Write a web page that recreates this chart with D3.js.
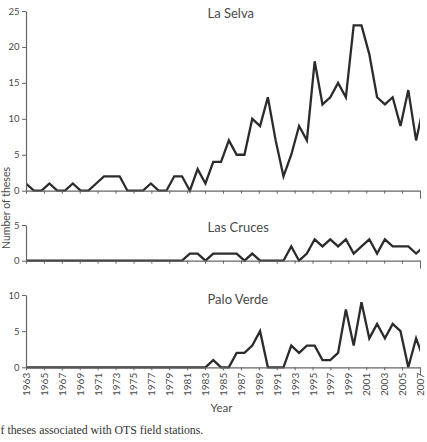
<!DOCTYPE html>
<html><head><meta charset="utf-8">
<script src="https://cdn.jsdelivr.net/npm/d3@7"></script>
<style>
body{margin:0;background:#fff;}
svg{display:block;}
</style></head>
<body><div id="chart"></div>
<script>
// ---- data ----
const tickYears = d3.range(1963, 2008, 2);
const stations = ["La Selva", "Las Cruces", "Palo Verde"];
const laSelva = [1,0,0,1,0,0,1,0,0,1,2,2,2,0,0,0,1,0,0,2,2,0,3,1,4,4,7,5,5,10,9,13,7,2,5,9,7,18,12,13,15,13,23,23,19,13,12,13,9,14,7,12];
const lasCruces = [0,0,0,0,0,0,0,0,0,0,0,0,0,0,0,0,0,0,0,0,0,1,1,0,1,1,1,1,0,1,0,0,0,0,2,0,1,3,2,3,2,3,1,2,3,1,3,2,2,2,1,2];
const paloVerde = [0,0,0,0,0,0,0,0,0,0,0,0,0,0,0,0,0,0,0,0,0,0,0,0,1,0,0,2,2,3,5,0,0,0,3,2,3,3,1,1,2,8,3,9,4,6,4,6,5,0,4,1];
const yMaxes = [25, 5, 10];
const yTicks = [[0,5,10,15,20,25],[0,5],[0,5,10]];

// ---- layout ----
const W = 427, H = 442;
const x0 = 26, x1 = 420;
const panels = [
  {data: laSelva,   yTop: 11,  yBot: 190.7},
  {data: lasCruces, yTop: 225, yBot: 260.7},
  {data: paloVerde, yTop: 295, yBot: 367.3}
];
const axisCol = "#666", textCol = "#4a4a4a", lineCol = "#2b2b2b";
const font = "Lato, 'Open Sans', sans-serif";

const svg = d3.select("#chart").append("svg").attr("width", W).attr("height", H);
svg.append("rect").attr("width", W).attr("height", H).attr("fill", "#fff");

const xYear = d3.scaleLinear().domain([1963, 2007]).range([x0, x1]);
const xIdx = d3.scaleLinear().domain([0, 50.5]).range([x0, x1]);

svg.append("clipPath").attr("id", "clip").append("rect")
  .attr("x", x0).attr("y", 0).attr("width", x1 - x0).attr("height", H);

panels.forEach((p, i) => {
  const y = d3.scaleLinear().domain([0, yMaxes[i]]).range([p.yBot, p.yTop]);
  const g = svg.append("g");

  // line
  g.append("path").datum(p.data)
    .attr("clip-path", "url(#clip)")
    .attr("fill", "none").attr("stroke", lineCol).attr("stroke-width", 2.3)
    .attr("stroke-linejoin", "miter")
    .attr("d", d3.line().x((d, k) => xIdx(k)).y(d => y(d)));

  // y axis
  const ya = g.append("g").attr("transform", `translate(${x0},0)`)
    .call(d3.axisLeft(y).tickValues(yTicks[i]).tickFormat(d3.format("d"))
      .tickSize(4).tickSizeOuter(0).tickPadding(2.5));
  ya.select(".domain").attr("stroke", axisCol).attr("stroke-width", 1.2);
  ya.selectAll(".tick line").attr("stroke", axisCol);
  ya.selectAll("text").attr("fill", textCol).style("font-family", font).style("font-size", "9.5px");

  // x axis
  const xa = g.append("g").attr("transform", `translate(0,${p.yBot})`)
    .call(d3.axisBottom(xYear).tickValues(tickYears).tickSize(3).tickSizeOuter(0)
      .tickFormat(i === 2 ? d3.format("d") : () => ""));
  xa.select(".domain").attr("stroke", axisCol).attr("stroke-width", 1.2);
  xa.selectAll(".tick line").attr("stroke", axisCol)
    .attr("y2", d => d === 2007 ? 8 : 3);
  if (i === 2) {
    xa.selectAll("text")
      .attr("transform", "rotate(-90)").attr("x", -5.5).attr("y", 0).attr("dy", "0.35em")
      .style("text-anchor", "end")
      .attr("fill", textCol).style("font-family", font).style("font-size", "10px");
  }

  // station title
  g.append("text").attr("x", 207.5).attr("y", [17.5, 232, 303.5][i])
    .attr("fill", textCol).style("font-family", font).style("font-size", "13px")
    .text(stations[i]);
});

// axis titles
svg.append("text").attr("transform", "translate(9.5,208) rotate(-90)")
  .attr("text-anchor", "middle").attr("fill", textCol)
  .style("font-family", font).style("font-size", "10.5px").text("Number of theses");
svg.append("text").attr("x", 221.5).attr("y", 412).attr("text-anchor", "middle")
  .attr("fill", textCol).style("font-family", font).style("font-size", "11.5px").text("Year");

// caption (cut at left edge)
svg.append("text").attr("x", 0.5).attr("y", 433.5).attr("fill", "#333")
  .style("font-family", "'Liberation Serif', 'Times New Roman', serif").style("font-size", "11.8px")
  .text("f theses associated with OTS field stations.");
</script></body></html>
